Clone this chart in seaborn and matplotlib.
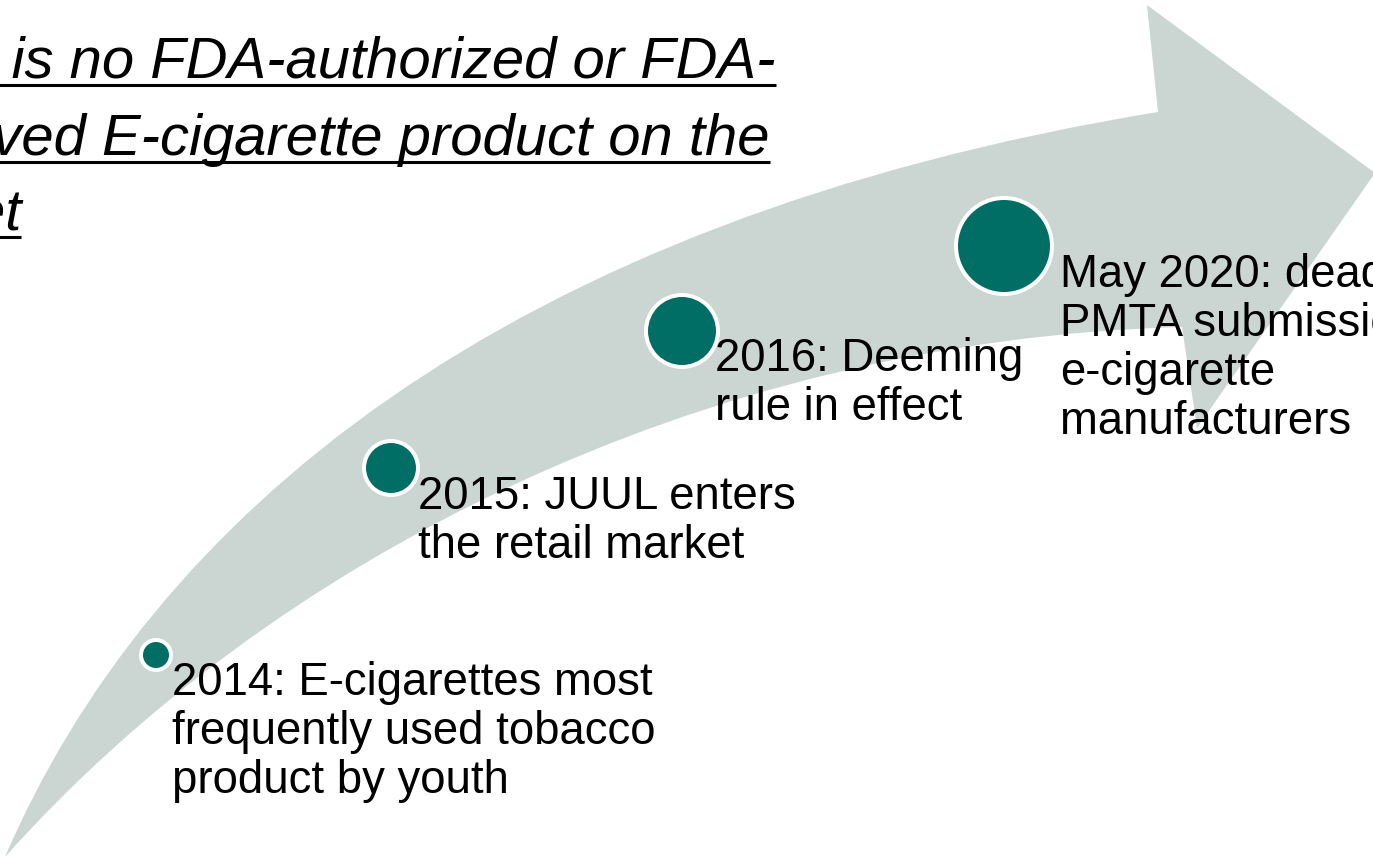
import pandas as pd
import seaborn as sns
import matplotlib.pyplot as plt
from matplotlib.path import Path
from matplotlib.patches import PathPatch

title_lines = ['There is no FDA-authorized or FDA-',
               'approved E-cigarette product on the',
               'market']
events = ['2014', '2015', '2016', 'May 2020']
event_text = ['2014: E-cigarettes most\nfrequently used tobacco\nproduct by youth',
              '2015: JUUL enters\nthe retail market',
              '2016: Deeming\nrule in effect',
              'May 2020: deadline for\nPMTA submission for\ne-cigarette\nmanufacturers']

# layout in pixels, y goes down
dot_x = [156, 391, 682, 1004]
dot_y = [655, 468, 331, 246]
dot_r = [15, 27, 36, 48]
label_x = [172, 418, 715, 1060]
label_y = [661, 475, 337, 253]
title_x = -156
title_base = [78, 155, 230]

W, H, DPI = 1373, 859, 100
teal = '#006E64'
arrow_grey = '#CBD6D3'

sns.set_theme(style='white')
plt.rcParams['font.family'] = ['Liberation Sans', 'DejaVu Sans']

fig = plt.figure(figsize=(W / DPI, H / DPI), dpi=DPI)
ax = fig.add_axes([0, 0, 1, 1])

# the curved arrow
verts = [(5, 857), (150, 520), (500, 220), (1158, 112),
         (1147, 5), (1375, 173), (1197, 428), (1182, 327),
         (700, 340), (270, 560), (5, 857), (5, 857)]
codes = [Path.MOVETO] + [Path.CURVE4] * 3 + [Path.LINETO] * 4 + [Path.CURVE4] * 3 + [Path.CLOSEPOLY]
ax.add_patch(PathPatch(Path(verts, codes), facecolor=arrow_grey, edgecolor='none', zorder=1))

# timeline dots
df = pd.DataFrame({'event': events, 'x': dot_x, 'y': dot_y})
areas = [(2 * r * 72 / DPI) ** 2 for r in dot_r]
sns.scatterplot(data=df, x='x', y='y', size='event', sizes=dict(zip(events, areas)),
                color=teal, edgecolor='white', linewidth=4 * 72 / DPI,
                legend=False, ax=ax, zorder=3)

for x, y, t in zip(label_x, label_y, event_text):
    ax.text(x, y, t, fontsize=32.8, ha='left', va='top', linespacing=1.15,
            color='black', zorder=4)

title_objs = []
for y, line in zip(title_base, title_lines):
    title_objs.append(ax.text(title_x, y, line, fontsize=41.8, style='italic',
                              ha='left', va='baseline', color='black', zorder=4))

ax.set_xlim(0, W)
ax.set_ylim(H, 0)
ax.axis('off')

# underline the title lines
fig.canvas.draw()
for t, y in zip(title_objs, title_base):
    bb = t.get_window_extent()
    ax.plot([bb.x0, bb.x1], [y + 7, y + 7], color='black', lw=2.2, zorder=4,
            solid_capstyle='butt')

ax.set_xlim(0, W)
ax.set_ylim(H, 0)
plt.savefig('out.png', dpi=DPI)
